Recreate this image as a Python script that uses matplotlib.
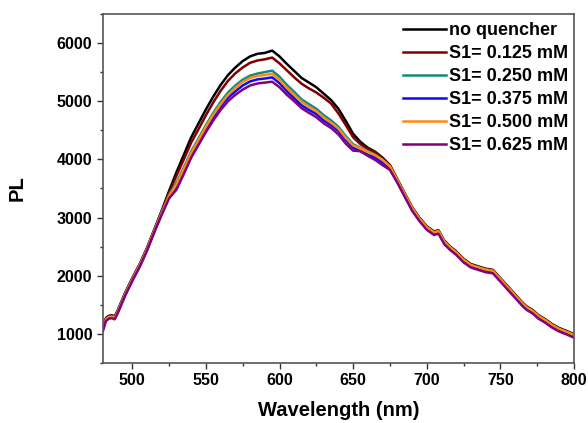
import matplotlib
matplotlib.use("Agg")
import matplotlib.pyplot as plt
from matplotlib.ticker import MultipleLocator

# -----------------------------
# Data
# -----------------------------
wavelength = [480, 482, 484, 486, 488, 490, 495, 500, 505, 510, 515,
              520, 525, 530, 535, 540, 545, 550, 555, 560, 565, 570, 575,
              580, 585, 590, 595, 600, 605, 610, 615, 620, 625, 630, 635,
              640, 645, 650, 655, 660, 665, 670, 675,
              680, 685, 690, 695, 700, 705, 708, 712, 716, 720, 725, 730,
              735, 740, 745, 750, 755, 760, 765, 768, 772, 776, 780, 785,
              790, 795, 800]

pl_none = [1100, 1270, 1310, 1320, 1300, 1400, 1700, 1960, 2200, 2480, 2800,
           3120, 3460, 3780, 4080, 4380, 4620, 4860, 5080, 5280, 5450, 5580, 5690,
           5770, 5815, 5830, 5870, 5770, 5640, 5520, 5400, 5320, 5240, 5130, 5020,
           4870, 4660, 4440, 4300, 4200, 4130, 4030, 3900,
           3660, 3420, 3180, 3000, 2850, 2760, 2780, 2600, 2500, 2420, 2290, 2200,
           2160, 2120, 2100, 1960, 1820, 1680, 1540, 1470, 1410, 1320, 1260, 1170,
           1100, 1050, 995]

pl_0125 = [1090, 1260, 1300, 1310, 1290, 1390, 1690, 1950, 2190, 2470, 2790,
           3110, 3430, 3720, 4000, 4290, 4520, 4760, 4980, 5180, 5350, 5480, 5580,
           5660, 5700, 5720, 5750, 5650, 5530, 5410, 5300, 5220, 5150, 5060, 4960,
           4790, 4590, 4380, 4260, 4180, 4120, 4020, 3900,
           3650, 3410, 3170, 2990, 2840, 2750, 2770, 2590, 2490, 2410, 2280, 2190,
           2150, 2110, 2090, 1950, 1810, 1670, 1530, 1460, 1400, 1310, 1250, 1160,
           1090, 1040, 985]

pl_0250 = [1080, 1250, 1290, 1300, 1280, 1380, 1680, 1940, 2180, 2460, 2780,
           3090, 3390, 3600, 3860, 4140, 4360, 4590, 4800, 4990, 5150, 5270, 5370,
           5440, 5475, 5500, 5525, 5420, 5280, 5160, 5030, 4950, 4870, 4760, 4670,
           4560, 4400, 4260, 4200, 4140, 4080, 3990, 3870,
           3640, 3400, 3160, 2980, 2830, 2740, 2760, 2580, 2480, 2400, 2270, 2180,
           2140, 2100, 2080, 1940, 1800, 1660, 1520, 1450, 1390, 1300, 1240, 1150,
           1080, 1030, 975]

pl_0375 = [1065, 1235, 1275, 1285, 1265, 1365, 1665, 1925, 2165, 2445, 2765,
           3070, 3360, 3540, 3800, 4080, 4300, 4520, 4730, 4910, 5060, 5170, 5270,
           5340, 5375, 5390, 5410, 5310, 5170, 5050, 4930, 4850, 4780, 4670, 4590,
           4490, 4330, 4200, 4140, 4080, 4030, 3940, 3840,
           3620, 3380, 3140, 2960, 2810, 2720, 2740, 2560, 2460, 2380, 2250, 2160,
           2120, 2080, 2060, 1920, 1780, 1640, 1500, 1430, 1370, 1280, 1220, 1130,
           1060, 1010, 955]

pl_0500 = [1075, 1245, 1285, 1295, 1275, 1375, 1675, 1935, 2175, 2455, 2775,
           3080, 3370, 3570, 3830, 4110, 4330, 4560, 4770, 4950, 5110, 5230, 5330,
           5400, 5435, 5450, 5470, 5370, 5230, 5110, 4990, 4900, 4830, 4720, 4630,
           4530, 4370, 4240, 4190, 4130, 4070, 3990, 3880,
           3645, 3405, 3165, 2985, 2835, 2745, 2765, 2585, 2485, 2405, 2275, 2185,
           2145, 2105, 2085, 1945, 1805, 1665, 1525, 1455, 1395, 1305, 1245, 1155,
           1085, 1035, 980]

pl_0625 = [1050, 1220, 1260, 1270, 1250, 1350, 1650, 1910, 2150, 2430, 2750,
           3050, 3330, 3480, 3750, 4030, 4250, 4470, 4670, 4850, 5000, 5110, 5200,
           5270, 5305, 5320, 5335, 5240, 5110, 5000, 4880, 4800, 4725, 4620, 4540,
           4430, 4270, 4150, 4140, 4060, 3990, 3900, 3820,
           3600, 3360, 3120, 2940, 2790, 2700, 2720, 2540, 2440, 2360, 2230, 2140,
           2100, 2060, 2040, 1900, 1760, 1620, 1480, 1410, 1350, 1260, 1200, 1110,
           1040, 990, 935]

labels = ["no quencher", "S1= 0.125 mM", "S1= 0.250 mM",
          "S1= 0.375 mM", "S1= 0.500 mM", "S1= 0.625 mM"]
series = [pl_none, pl_0125, pl_0250, pl_0375, pl_0500, pl_0625]
colors = ["#000000", "#800000", "#138a80", "#0a0aff", "#ff8a10", "#820082"]

# -----------------------------
# Plot
# -----------------------------
plt.rcParams["font.family"] = ["Liberation Sans", "DejaVu Sans"]
plt.rcParams["font.weight"] = "bold"

fig = plt.figure(figsize=(5.88, 4.23), dpi=100)
ax = fig.add_axes([0.175, 0.142, 0.801, 0.825])

for y, c, lab in zip(series, colors, labels):
    ax.plot(wavelength, y, color=c, lw=1.8, label=lab)

ax.set_xlim(480, 800)
ax.set_ylim(500, 6500)
ax.xaxis.set_major_locator(MultipleLocator(50))
ax.xaxis.set_minor_locator(MultipleLocator(25))
ax.yaxis.set_major_locator(MultipleLocator(1000))
ax.yaxis.set_minor_locator(MultipleLocator(500))
ax.tick_params(which="major", direction="out", length=4, width=1, labelsize=11.5, color="#333333")
ax.tick_params(which="minor", direction="out", length=2.5, width=1, color="#333333")
for lab in ax.get_xticklabels() + ax.get_yticklabels():
    lab.set_fontweight("bold")
for sp in ax.spines.values():
    sp.set_color("#555555")
    sp.set_linewidth(1.2)

ax.set_xlabel("Wavelength (nm)", fontsize=14.5, fontweight="bold", labelpad=9)
ax.set_ylabel("PL", fontsize=14.5, fontweight="bold", labelpad=22)

ax.legend(loc="upper right", bbox_to_anchor=(0.997, 0.986), frameon=False,
          prop={"weight": "bold", "size": 13},
          handlelength=2.4, handletextpad=0.2, labelspacing=0.33,
          borderaxespad=0.0, borderpad=0.2)

plt.savefig("out.png", dpi=100)
